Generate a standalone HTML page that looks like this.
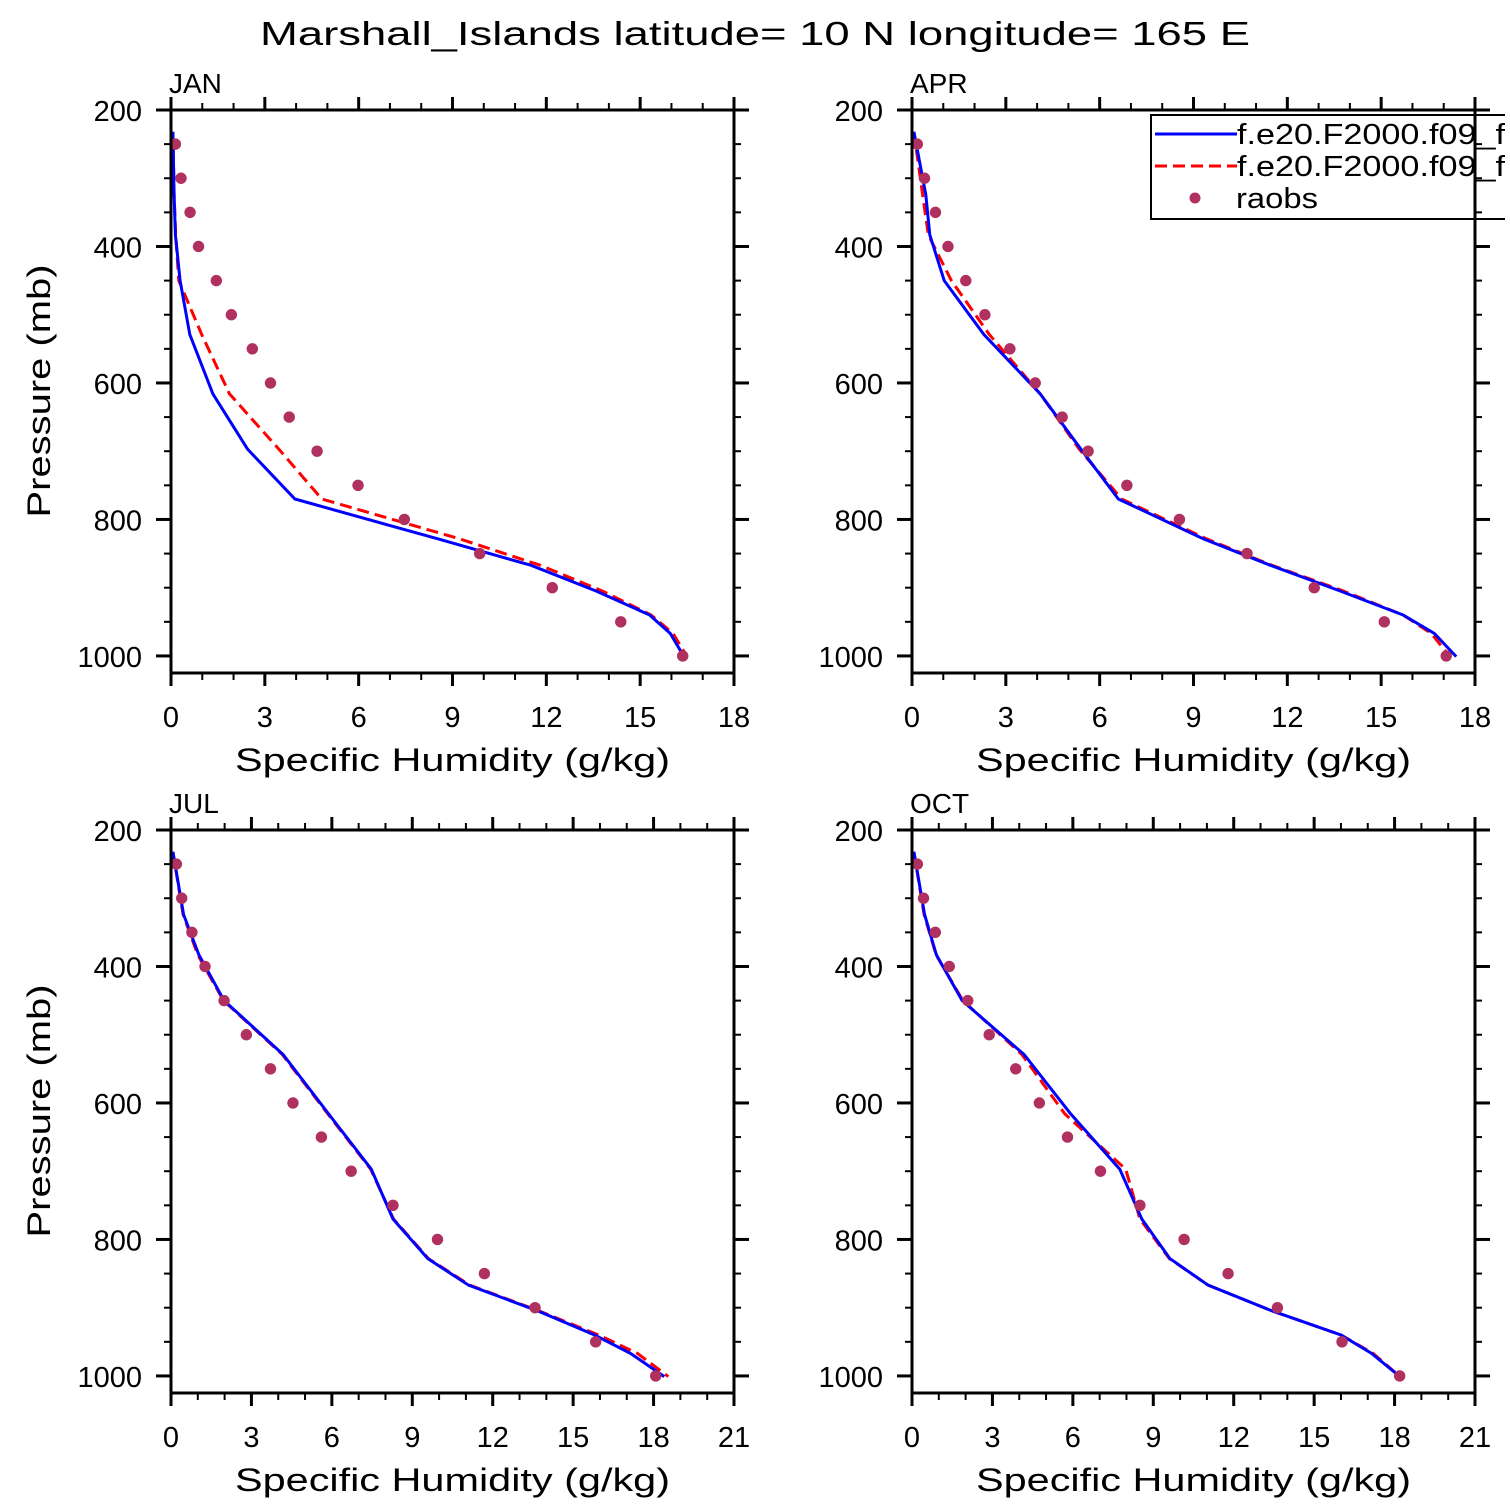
<!DOCTYPE html>
<html><head><meta charset="utf-8"><title>Marshall Islands specific humidity profiles</title>
<style>
html,body{margin:0;padding:0;background:#fff;}
svg{display:block;font-family:"Liberation Sans",sans-serif;}
</style></head>
<body>
<svg id="chart" width="1510" height="1510" viewBox="0 0 1510 1510" xmlns="http://www.w3.org/2000/svg">
<defs><clipPath id="pageclip"><rect x="0" y="0" width="1505" height="1510"/></clipPath></defs>
<rect x="0" y="0" width="1510" height="1510" fill="#fff"/>
<text x="260" y="45" font-size="33" textLength="990" lengthAdjust="spacingAndGlyphs" fill="#000">Marshall_Islands  latitude= 10 N longitude= 165 E</text>
<g id="plots"></g>
</svg>
<script>
const modelLevels = [232,324,383,450,529,616,697,770,828,867,905,940,967,1001];
const obsLevels = [250,300,350,400,450,500,550,600,650,700,750,800,850,900,950,1000];
const monthNames = ["JAN","APR","JUL","OCT"];
const xMaxes = [18,18,21,21];
const xTickStep = [3,3,3,3];
const pressureTicks = [200,400,600,800,1000];

const janModel1 = [0.06,0.1,0.14,0.29,0.6,1.34,2.45,3.96,8.5,11.5,13.6,15.3,15.96,16.4];
const janModel2 = [0.06,0.1,0.15,0.25,0.98,1.87,3.45,4.82,9.2,11.8,13.8,15.35,16.05,16.5];
const janObs = [0.14,0.32,0.61,0.88,1.45,1.93,2.6,3.18,3.78,4.67,5.98,7.46,9.87,12.19,14.38,16.36];

const aprModel1 = [0.06,0.44,0.57,1.03,2.3,4.1,5.4,6.6,9.3,11.45,13.7,15.7,16.7,17.4];
const aprModel2 = [0.06,0.34,0.52,1.26,2.47,4.1,5.35,6.7,9.4,11.5,13.8,15.7,16.6,17.2];
const aprObs = [0.17,0.4,0.75,1.15,1.72,2.33,3.13,3.94,4.8,5.63,6.87,8.55,10.71,12.86,15.1,17.08];

const julModel1 = [0.07,0.47,1.04,1.98,4.18,5.88,7.47,8.28,9.58,11.1,13.7,15.8,17.14,18.4];
const julModel2 = [0.07,0.45,1.0,1.96,4.15,5.85,7.45,8.3,9.6,11.15,13.75,15.95,17.4,18.55];
const julObs = [0.2,0.4,0.78,1.27,1.98,2.81,3.71,4.55,5.61,6.72,8.28,9.94,11.69,13.58,15.84,18.08];

const octModel1 = [0.07,0.47,0.91,1.87,4.18,5.92,7.75,8.57,9.62,11.05,13.45,16.0,17.14,18.2];
const octModel2 = [0.07,0.45,0.9,1.9,4.1,5.7,7.97,8.5,9.6,11.05,13.45,16.0,17.2,18.2];
const octObs = [0.2,0.43,0.87,1.39,2.08,2.88,3.87,4.75,5.8,7.03,8.5,10.15,11.79,13.63,16.04,18.19];

const seriesModel1 = [janModel1,aprModel1,julModel1,octModel1];
const seriesModel2 = [janModel2,aprModel2,julModel2,octModel2];
const seriesObs = [janObs,aprObs,julObs,octObs];

const NS = "http://www.w3.org/2000/svg";
const root = document.getElementById("plots");
const PW = 563, PH = 563, PMIN = 200, PMAX = 1025;
const origins = [[171,110],[912,110],[171,830],[912,830]];

function mk(tag, attrs, parent){
  const e = document.createElementNS(NS, tag);
  for (const k in attrs) e.setAttribute(k, attrs[k]);
  parent.appendChild(e);
  return e;
}

for (let i=0;i<4;i++){
  const [x0,y0] = origins[i];
  const xmax = xMaxes[i];
  const xs = v => x0 + v/xmax*PW;
  const ys = p => y0 + (p-PMIN)/(PMAX-PMIN)*PH;
  const g = mk("g",{},root);
  
  

  if (i===1){
    const lg = mk("g",{"clip-path":"url(#pageclip)"},g);
    
    
    mk("rect",{x:1151,y:115,width:420,height:104,fill:"#fff",stroke:"#000","stroke-width":2},lg);
    const l1 = mk("line",{x1:1155,y1:134,x2:1237,y2:134,stroke:"#0000ff","stroke-width":3},lg);
    
    
    const t1 = mk("text",{x:1237,y:144,"font-size":29,textLength:306,lengthAdjust:"spacingAndGlyphs",fill:"#000"},lg); t1.textContent="f.e20.F2000.f09_f09";
    
    
    const l2 = mk("line",{x1:1155,y1:166,x2:1237,y2:166,stroke:"#ff0000","stroke-width":3,"stroke-dasharray":"12,6"},lg);
    
    
    const t2 = mk("text",{x:1237,y:176,"font-size":29,textLength:306,lengthAdjust:"spacingAndGlyphs",fill:"#000"},lg); t2.textContent="f.e20.F2000.f09_f09";
    
    
    const d = mk("circle",{cx:1195,cy:198,r:5.5,fill:"#b03060"},lg);
    
    
    const t3 = mk("text",{x:1236,y:208,"font-size":29,textLength:82,lengthAdjust:"spacingAndGlyphs",fill:"#000"},lg); t3.textContent="raobs";
    
    
  }

  const pts1 = seriesModel1[i].map((v,k)=>xs(v).toFixed(1)+","+ys(modelLevels[k]).toFixed(1)).join(" ");
  const pts2 = seriesModel2[i].map((v,k)=>xs(v).toFixed(1)+","+ys(modelLevels[k]).toFixed(1)).join(" ");
  const ln2 = mk("polyline",{points:pts2,fill:"none",stroke:"#ff0000","stroke-width":3,"stroke-dasharray":"12,6"},g);
  
  
  const ln1 = mk("polyline",{points:pts1,fill:"none",stroke:"#0000ff","stroke-width":3},g);
  
  
  seriesObs[i].forEach((v,k)=>{
    const c = mk("circle",{cx:xs(v),cy:ys(obsLevels[k]),r:5.7,fill:"#b03060"},g);
    
    
  });

  const fr = mk("rect",{x:x0,y:y0,width:PW,height:PH,fill:"none",stroke:"#000","stroke-width":3},g);
  
  

  for (let v=0; v<=xmax; v++){
    const major = v % xTickStep[i] === 0;
    const L = major ? 13 : 7;
    const x = xs(v);
    mk("line",{x1:x,y1:y0,x2:x,y2:y0-L,stroke:"#000","stroke-width":major?3:2},g);
    mk("line",{x1:x,y1:y0+PH,x2:x,y2:y0+PH+L,stroke:"#000","stroke-width":major?3:2},g);
    if (major){
      const t = mk("text",{x:x,y:y0+PH+54,"font-size":29,"text-anchor":"middle",fill:"#000"},g);
      t.textContent = String(v);
      
      
    }
  }
  for (let p=200; p<=PMAX; p+=50){
    const major = pressureTicks.includes(p);
    const L = major ? 15 : 7;
    const y = ys(p);
    mk("line",{x1:x0,y1:y,x2:x0-L,y2:y,stroke:"#000","stroke-width":major?3:2},g);
    mk("line",{x1:x0+PW,y1:y,x2:x0+PW+L,y2:y,stroke:"#000","stroke-width":major?3:2},g);
    if (major){
      const t = mk("text",{x:x0-29,y:y+11,"font-size":29,"text-anchor":"end",fill:"#000"},g);
      t.textContent = String(p);
      
      
    }
  }
  const pl = mk("text",{x:x0-2,y:y0-17,"font-size":28,fill:"#000"},g);
  pl.textContent = monthNames[i];
  
  
  const xt = mk("text",{x:x0+64,y:y0+PH+98,"font-size":32,textLength:435,lengthAdjust:"spacingAndGlyphs",fill:"#000"},g);
  xt.textContent = "Specific Humidity (g/kg)";
  
  
  if (x0 < 500){
    const cy = y0 + 281;
    const yt = mk("text",{x:0,y:0,"font-size":32,textLength:253,lengthAdjust:"spacingAndGlyphs","text-anchor":"middle",transform:"translate(50,"+cy+") rotate(-90)",fill:"#000"},g);
    yt.textContent = "Pressure (mb)";
    
    
  }
}
</script>
</body></html>
